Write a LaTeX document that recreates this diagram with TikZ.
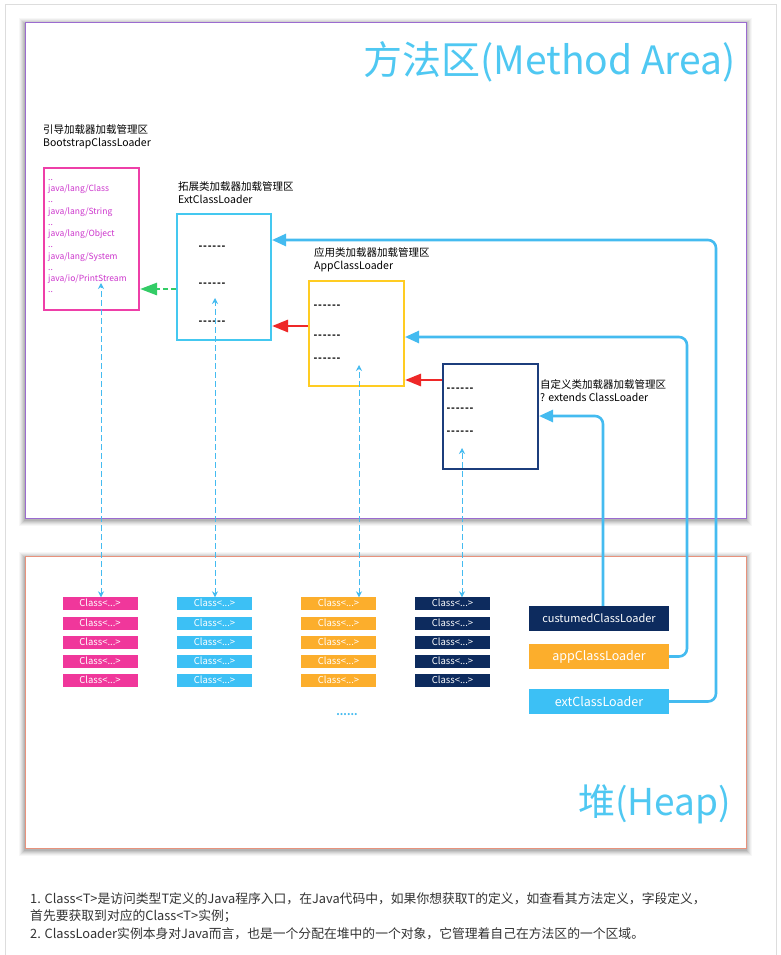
\documentclass[tikz,border=0pt]{standalone}
\usepackage{fontspec}
\setmainfont{Noto Sans CJK SC}
\usetikzlibrary{arrows.meta}
\definecolor{framegray}{HTML}{DDDDDD}
\definecolor{mapurple}{HTML}{9B6BD0}
\definecolor{heapred}{HTML}{E8927C}
\definecolor{titleblue}{HTML}{4FC8F2}
\definecolor{bootmag}{HTML}{EE3FA8}
\definecolor{boottext}{HTML}{CC33CC}
\definecolor{extcyan}{HTML}{44C8F0}
\definecolor{appyellow}{HTML}{FFCC22}
\definecolor{custnavy}{HTML}{1C3D7C}
\definecolor{linkblue}{HTML}{44BBF0}
\definecolor{arrred}{HTML}{EE2828}
\definecolor{arrgreen}{HTML}{33CC66}
\definecolor{cmag}{HTML}{F0379B}
\definecolor{ccyan}{HTML}{3CC0F5}
\definecolor{corange}{HTML}{FCAE2C}
\definecolor{cnavy}{HTML}{0D2B5E}
\definecolor{notegray}{HTML}{333333}
\newcommand\sixdash{-\kern.8pt-\kern.8pt-\kern.8pt-\kern.8pt-\kern.8pt-}
\tikzset{
  area/.style={draw, line width=1pt, fill=white, anchor=north west, inner sep=0pt},
  loaderbox/.style={draw, line width=2pt, fill=white, anchor=north west, inner sep=0pt},
  lbl/.style={anchor=north west, inner sep=0pt, align=left, font=\fontsize{10.5}{13.5}\selectfont},
  dots/.style={inner sep=0pt, font=\fontsize{10}{10}\selectfont\bfseries},
  clsbox/.style={fill=#1, text=white, minimum width=75pt, minimum height=13pt, inner sep=0pt, font=\fontsize{9.5}{10}\selectfont},
  clbtn/.style={fill=#1, text=white, minimum width=140pt, minimum height=25pt, inner sep=0pt},
  redarrow/.style={draw=arrred, line width=2.8pt, -{Triangle[length=16pt,width=12pt]}},
  greenarrow/.style={draw=arrgreen, line width=2.8pt, dash pattern=on 5pt off 3pt, -{Triangle[length=17pt,width=12pt]}},
  bluelink/.style={draw=linkblue, line width=2.6pt, rounded corners=8pt, -{Triangle[length=14pt,width=12pt]}},
  dashlink/.style={draw=linkblue, line width=0.8pt, dash pattern=on 6pt off 3pt, {Stealth[length=6pt,width=6pt]}-{Stealth[length=6pt,width=6pt]}},
}
\begin{document}
\begin{tikzpicture}[x=1pt,y=-1pt]
\useasboundingbox (0,0) rectangle (781,955);
\fill[white] (0,0) rectangle (781,955);
\draw[framegray, line width=1pt] (5,955) -- (5,5) -- (776,5) -- (776,955);
% shadows
\foreach \d/\o in {6/0.03,5/0.04,4/0.05,3/0.06,2/0.07,1/0.08}{
  \fill[black,opacity=\o] (25-\d,22-\d+2) rectangle (746+\d,518+\d+2);
  \fill[black,opacity=\o] (25-\d,556-\d+2) rectangle (746+\d,848+\d+2);
}
% areas
\node[area, draw=mapurple, minimum width=721pt, minimum height=496pt] (ma) at (25,22) {};
\node[area, draw=heapred, minimum width=721pt, minimum height=292pt] (heap) at (25,556) {};
\node[anchor=east, inner sep=0pt, text=titleblue, font=\fontsize{39}{44}\selectfont] (matitle) at (736,62) {方法区(Method Area)};
\node[anchor=east, inner sep=0pt, text=titleblue, font=\fontsize{37}{40}\selectfont] (heaptitle) at (731,804) {堆(Heap)};
% labels
\node[lbl] (bootlbl) at (43,124) {引导加载器加载管理区\\BootstrapClassLoader};
\node[lbl] (extlbl) at (178,181) {拓展类加载器加载管理区\\ExtClassLoader};
\node[lbl] (applbl) at (314,247) {应用类加载器加载管理区\\AppClassLoader};
\node[lbl] (custlbl) at (540,379) {自定义类加载器加载管理区\\? extends ClassLoader};
% loader boxes
\node[loaderbox, draw=bootmag, minimum width=95pt, minimum height=142pt] (boot) at (43,167) {};
\node[anchor=north west, inner sep=0pt, align=left, text=boottext, font=\fontsize{8.5}{11.25}\selectfont] (boottxt) at (48,179) {..\\java/lang/Class\\..\\java/lang/String\\..\\java/lang/Object\\..\\java/lang/System\\..\\java/io/PrintStream\\..};
\node[loaderbox, draw=extcyan, minimum width=94pt, minimum height=126pt] (ext) at (176,213) {};
\node[loaderbox, draw=appyellow, minimum width=95pt, minimum height=105pt] (app) at (308,280) {};
\node[loaderbox, draw=custnavy, minimum width=95pt, minimum height=105pt] (cust) at (442,363) {};
\node[dots] (e1) at (212,248) {\sixdash};
\node[dots] (e2) at (212,285) {\sixdash};
\node[dots] (e3) at (212,323) {\sixdash};
\node[dots] (a1) at (327,307) {\sixdash};
\node[dots] (a2) at (327,337) {\sixdash};
\node[dots] (a3) at (327,360) {\sixdash};
\node[dots] (u1) at (460,390) {\sixdash};
\node[dots] (u2) at (460,410) {\sixdash};
\node[dots] (u3) at (460,433) {\sixdash};
% class boxes
\foreach \r/\y in {1/603,2/623,3/642,4/661,5/680}{
  \node[clsbox=cmag] (c1\r) at (100,\y) {Class<...>};
  \node[clsbox=ccyan] (c2\r) at (214.5,\y) {Class<...>};
  \node[clsbox=corange] (c3\r) at (338.5,\y) {Class<...>};
  \node[clsbox=cnavy] (c4\r) at (452.5,\y) {Class<...>};
}
\node[inner sep=0pt, text=linkblue, font=\fontsize{10}{10}\selectfont\bfseries] (more) at (347,715) {......};
% class loader buttons
\node[clbtn=cnavy, font=\fontsize{11}{12}\selectfont] (custCL) at (599,618.5) {custumedClassLoader};
\node[clbtn=corange, font=\fontsize{12.5}{13}\selectfont] (appCL) at (599,656.5) {appClassLoader};
\node[clbtn=ccyan, font=\fontsize{12.5}{13}\selectfont] (extCL) at (599,701.5) {extClassLoader};
% parent arrows
\draw[greenarrow] (ext.west |- 0,289) -- (boot.east |- 0,289);
\draw[redarrow] (app.west |- 0,326) -- (ext.east |- 0,326);
\draw[redarrow] (cust.west |- 0,380) -- (app.east |- 0,380);
% instance links
\draw[bluelink] (extCL.east) -| (716,240) -- (ext.east |- 0,240);
\draw[bluelink] (appCL.east) -| (687,337) -- (app.east |- 0,337);
\draw[bluelink] (custCL.north -| 603,0) |- (cust.east |- 0,416);
% class <-> area links
\draw[dashlink] ([yshift=-1pt]c11.north -| 101,0) -- (101,283);
\draw[dashlink] ([yshift=-1pt]c21.north -| 215,0) -- (215,298);
\draw[dashlink] ([yshift=-1pt]c31.north -| 359,0) -- (359,365);
\draw[dashlink] ([yshift=-1pt]c41.north -| 462,0) -- (462,448);
% notes
\node[anchor=north west, inner sep=0pt, align=left, text=notegray, font=\fontsize{12.8}{17.5}\selectfont] (notes) at (30,892) {1. Class<T>是访问类型T定义的Java程序入口，在Java代码中，如果你想获取T的定义，如查看其方法定义，字段定义，\\首先要获取到对应的Class<T>实例；\\2. ClassLoader实例本身对Java而言，也是一个分配在堆中的一个对象，它管理着自己在方法区的一个区域。};
\end{tikzpicture}
\end{document}
